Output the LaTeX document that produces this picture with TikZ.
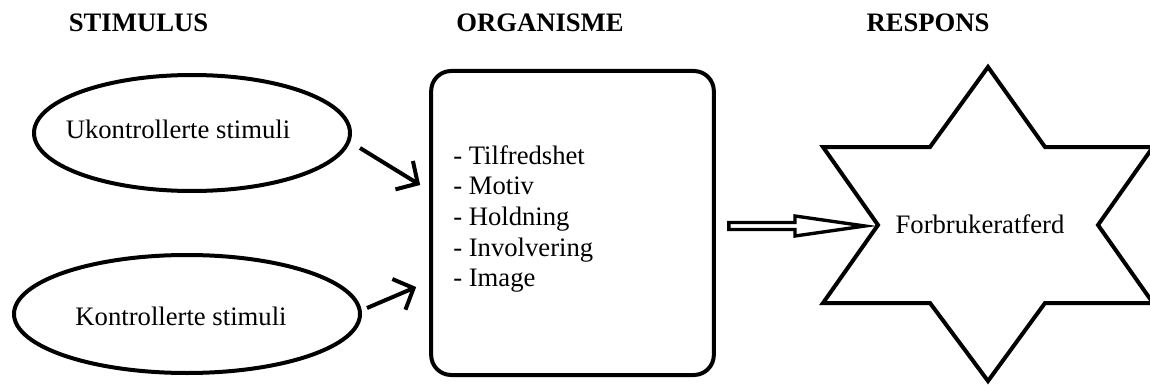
\documentclass[tikz,border=0pt]{standalone}
\usepackage{fontspec}
\setmainfont{Liberation Serif}
\usetikzlibrary{shapes.geometric,arrows.meta,calc}
\begin{document}
\begin{tikzpicture}[x=0.75pt,y=-0.75pt,
  thick line/.style={line width=3pt},
  ell/.style={ellipse,draw,thick line,inner sep=0pt},
  lbl/.style={font=\fontsize{20}{23}\selectfont,inner sep=0pt},
  title/.style={font=\fontsize{20}{23}\selectfont\bfseries,inner sep=0pt},
  arr/.style={thick line,-{Straight Barb[length=12pt,width=25pt]}},
  box/.style={draw,thick line,rounded corners=15pt,inner sep=0pt},
  hollow/.style={line width=2.5pt,line join=miter}]
\clip (0,0) rectangle (1150,385);
% titles
\node[title] (tS) at (138.5,23) {STIMULUS};
\node[title] (tO) at (540,23) {ORGANISME};
\node[title] (tR) at (928,23) {RESPONS};
% ellipses
\node[ell,minimum width=237pt,minimum height=87pt] (e1) at (192,133) {};
\node[lbl] (t1) at (178,129) {Ukontrollerte stimuli};
\node[ell,minimum width=259.5pt,minimum height=88.5pt] (e2) at (187,314) {};
\node[lbl] (t2) at (181,316) {Kontrollerte stimuli};
% organism box
\node[box,minimum width=212pt,minimum height=228pt] (box) at (572.5,223) {};
\node[lbl,anchor=west,align=left] (list) at (453,219)
  {- Tilfredshet\\- Motiv\\- Holdning\\- Involvering\\- Image};
% star
\coordinate (sc) at (988,224);
\coordinate (starL) at (878,225);
\draw[thick line,line join=miter] (988,67) -- (1045,147) -- (1153,147) -- (1098,225)
  -- (1153,303) -- (1045,303) -- (988,381) -- (930,303) -- (823,303)
  -- (starL) -- (823,147) -- (930,147) -- cycle;
\node[lbl] (resp) at (980,224) {Forbrukeratferd};
% stimulus arrows
\draw[arr] ($(e1.east)+(8,15)$) -- ($(box.west)+(-9,-38)$);
\draw[arr] ($(e2.east)+(5,-6)$) -- ($(box.west)+(-13,64)$);
% hollow arrow
\coordinate (ds) at ($(box.east)+(13,3)$);
\coordinate (dt) at ($(starL)+(-13,1)$);
\draw[hollow] ($(ds)+(0,-3.5)$) -- ($(dt)+(-70,-3.5)$) -- ($(dt)+(-70,-10)$)
  -- (dt) -- ($(dt)+(-70,10)$) -- ($(dt)+(-70,3.5)$) -- ($(ds)+(0,3.5)$) -- cycle;
\end{tikzpicture}
\end{document}
